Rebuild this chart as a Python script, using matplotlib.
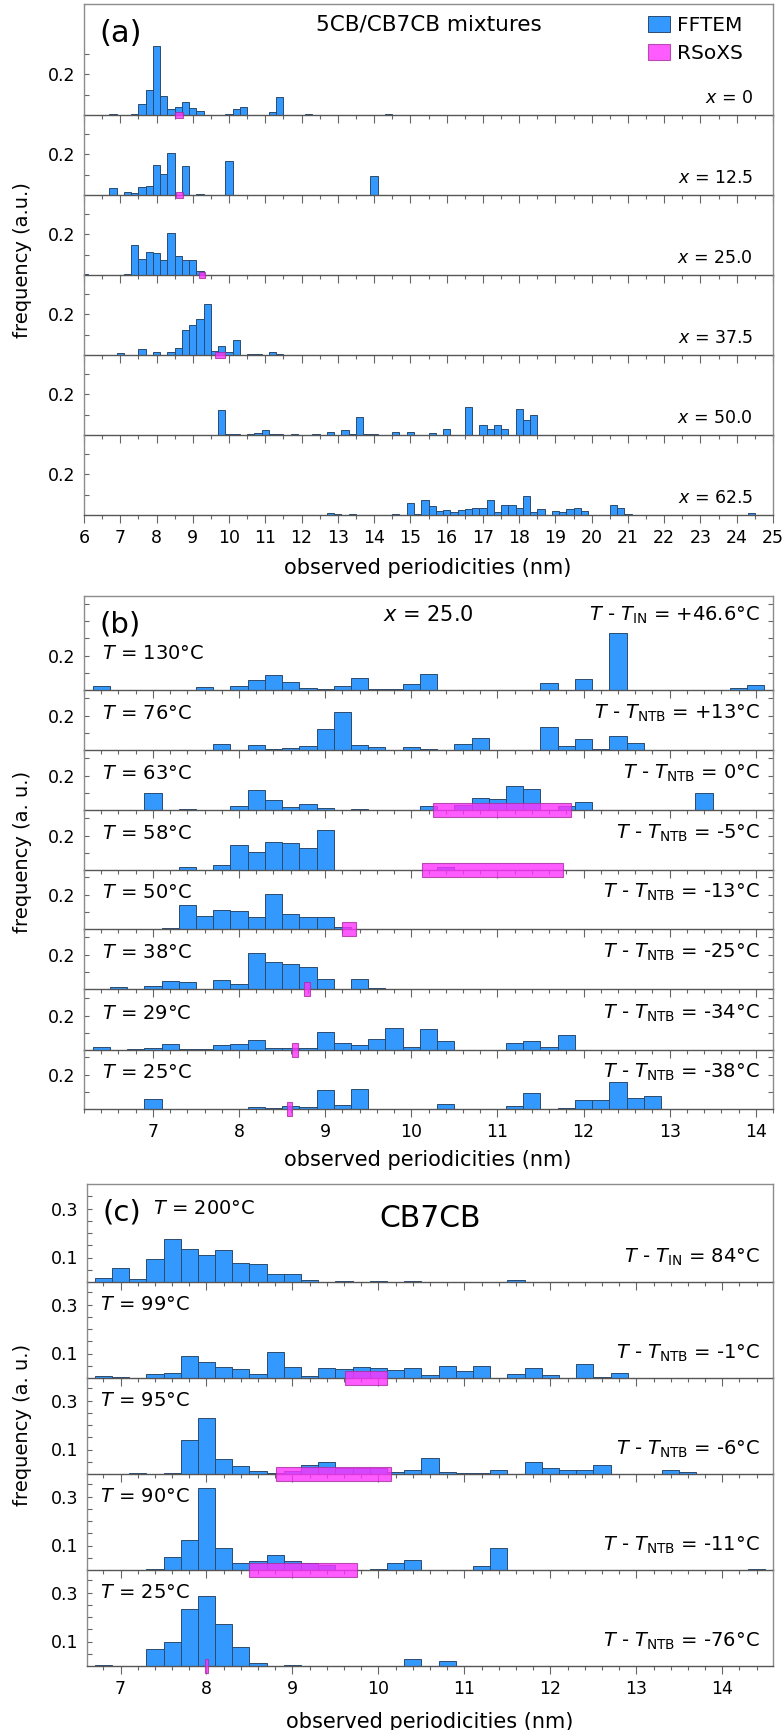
import matplotlib.pyplot as plt
from matplotlib.ticker import MultipleLocator
import numpy as np

plt.rcParams['font.family'] = ['DejaVu Sans']
plt.rcParams['mathtext.fontset'] = 'dejavusans'

BIN = 0.2
BLUE = '#3399ff'
EDGE = '#2b4a6e'
MAGENTA = '#ff33ff'
MAG_EDGE = '#a8309f'
SPINE = '#8c8c8c'
BASE = '#555555'

# ---- (a) 5CB/CB7CB mixtures, FFTEM histograms per composition x ----
a_labels = ['0', '12.5', '25.0', '37.5', '50.0', '62.5']
a_centers = [
    [6.8, 7.4, 7.6, 7.8, 8.0, 8.2, 8.4, 8.6, 8.8, 9.0, 9.2, 10.0, 10.2, 10.4, 11.2, 11.4, 12.2, 14.4],
    [6.8, 7.2, 7.4, 7.6, 7.8, 8.0, 8.2, 8.4, 8.8, 9.2, 10.0, 14.0],
    [6.0, 7.2, 7.4, 7.6, 7.8, 8.0, 8.2, 8.4, 8.6, 8.8, 9.0, 9.2, 9.4, 10.0],
    [7.0, 7.6, 8.0, 8.4, 8.6, 8.8, 9.0, 9.2, 9.4, 9.6, 9.8, 10.0, 10.2, 10.6, 10.8, 11.2, 11.4],
    [9.8, 10.0, 10.2, 10.6, 10.8, 11.0, 11.2, 11.4, 11.8, 12.4, 12.8, 13.2, 13.4, 13.6, 13.8, 14.0,
     14.6, 15.0, 15.6, 16.0, 16.6, 17.0, 17.2, 17.4, 17.6, 18.0, 18.2, 18.4],
    [12.8, 13.0, 13.4, 14.6, 15.0, 15.2, 15.4, 15.6, 15.8, 16.0, 16.2, 16.4, 16.6, 16.8, 17.0, 17.2,
     17.4, 17.6, 17.8, 18.0, 18.2, 18.4, 18.6, 19.0, 19.2, 19.4, 19.6, 19.8, 20.6, 20.8, 21.0, 21.4, 24.4],
]
a_freq = [
    [0.003, 0.005, 0.055, 0.124, 0.337, 0.091, 0.029, 0.037, 0.062, 0.036, 0.020, 0.005, 0.029, 0.040,
     0.015, 0.089, 0.003, 0.006],
    [0.036, 0.013, 0.008, 0.039, 0.044, 0.144, 0.102, 0.205, 0.141, 0.003, 0.164, 0.095],
    [0.003, 0.003, 0.144, 0.079, 0.113, 0.105, 0.074, 0.203, 0.092, 0.073, 0.073, 0.018, 0.002, 0.002],
    [0.011, 0.029, 0.015, 0.015, 0.036, 0.122, 0.148, 0.174, 0.247, 0.020, 0.042, 0.013, 0.072, 0.006,
     0.006, 0.013, 0.003],
    [0.121, 0.003, 0.003, 0.003, 0.010, 0.026, 0.005, 0.005, 0.003, 0.003, 0.016, 0.023, 0.003, 0.090,
     0.003, 0.003, 0.013, 0.014, 0.012, 0.028, 0.136, 0.049, 0.030, 0.051, 0.031, 0.126, 0.074, 0.098],
    [0.011, 0.005, 0.005, 0.005, 0.060, 0.005, 0.074, 0.045, 0.020, 0.026, 0.013, 0.026, 0.031, 0.034,
     0.036, 0.074, 0.016, 0.049, 0.049, 0.033, 0.093, 0.015, 0.031, 0.020, 0.015, 0.030, 0.034, 0.021,
     0.049, 0.034, 0.005, 0.002, 0.011],
]
a_rsoxs = [(8.50, 8.74), (8.55, 8.74), (9.18, 9.34), (9.62, 9.89), None, None]

# ---- (b) x = 25.0 at several temperatures ----
b_temps = ['130', '76', '63', '58', '50', '38', '29', '25']
b_shift = [None, '+13', '0', '-5', '-13', '-25', '-34', '-38']
b_centers = [
    [6.4, 7.6, 8.0, 8.2, 8.4, 8.6, 8.8, 9.0, 9.2, 9.4, 9.6, 9.8, 10.0, 10.2, 11.6, 12.0, 12.4, 13.8, 14.0],
    [7.4, 7.8, 8.2, 8.4, 8.6, 8.8, 9.0, 9.2, 9.4, 9.6, 10.0, 10.2, 10.6, 10.8, 11.6, 11.8, 12.0, 12.2,
     12.4, 12.6],
    [7.0, 7.4, 8.0, 8.2, 8.4, 8.6, 8.8, 9.0, 9.4, 10.2, 10.6, 10.8, 11.0, 11.2, 11.4, 11.8, 12.0, 13.4],
    [7.4, 7.8, 8.0, 8.2, 8.4, 8.6, 8.8, 9.0, 10.4],
    [7.2, 7.4, 7.6, 7.8, 8.0, 8.2, 8.4, 8.6, 8.8, 9.0, 9.2, 10.0],
    [6.6, 7.0, 7.2, 7.4, 7.8, 8.0, 8.2, 8.4, 8.6, 8.8, 9.0, 9.2, 9.4, 9.6],
    [6.4, 6.8, 7.0, 7.2, 7.4, 7.6, 7.8, 8.0, 8.2, 8.4, 8.6, 8.8, 9.0, 9.2, 9.4, 9.6, 9.8, 10.0, 10.2,
     10.4, 11.2, 11.4, 11.6, 11.8],
    [7.0, 7.2, 7.6, 8.2, 8.4, 8.6, 8.8, 9.0, 9.2, 9.4, 9.6, 10.4, 10.6, 10.8, 11.0, 11.2, 11.4, 11.6,
     11.8, 12.0, 12.2, 12.4, 12.6, 12.8],
]
b_freq = [
    [0.025, 0.016, 0.023, 0.058, 0.087, 0.049, 0.014, 0.008, 0.021, 0.070, 0.004, 0.004, 0.037, 0.093,
     0.043, 0.064, 0.330, 0.012, 0.031],
    [0.002, 0.033, 0.027, 0.008, 0.012, 0.021, 0.124, 0.221, 0.027, 0.017, 0.016, 0.006, 0.033, 0.068,
     0.134, 0.021, 0.066, 0.006, 0.080, 0.043],
    [0.097, 0.004, 0.023, 0.115, 0.058, 0.019, 0.035, 0.012, 0.004, 0.025, 0.030, 0.072, 0.066, 0.138,
     0.120, 0.025, 0.049, 0.097],
    [0.016, 0.029, 0.144, 0.105, 0.163, 0.157, 0.128, 0.231, 0.017],
    [0.004, 0.142, 0.078, 0.113, 0.103, 0.070, 0.202, 0.089, 0.070, 0.070, 0.012, 0.002],
    [0.012, 0.016, 0.047, 0.043, 0.050, 0.027, 0.210, 0.155, 0.148, 0.130, 0.060, 0.002, 0.056, 0.006],
    [0.016, 0.004, 0.012, 0.033, 0.004, 0.008, 0.029, 0.035, 0.056, 0.014, 0.014, 0.014, 0.105, 0.039,
     0.029, 0.062, 0.130, 0.017, 0.120, 0.052, 0.043, 0.054, 0.017, 0.085],
    [0.060, 0.002, 0.002, 0.012, 0.004, 0.017, 0.010, 0.113, 0.021, 0.118, 0.002, 0.031, 0.002, 0.002,
     0.002, 0.016, 0.093, 0.002, 0.006, 0.050, 0.050, 0.157, 0.062, 0.078],
]
b_rsoxs = [None, None, (10.25, 11.85), (10.12, 11.76), (9.20, 9.36), (8.75, 8.82), (8.62, 8.68), (8.56, 8.62)]

# ---- (c) CB7CB at several temperatures ----
c_temps = ['200', '99', '95', '90', '25']
c_shift = ['84', '-1', '-6', '-11', '-76']
c_centers = [
    [6.8, 7.0, 7.2, 7.4, 7.6, 7.8, 8.0, 8.2, 8.4, 8.6, 8.8, 9.0, 9.2, 9.6, 10.0, 10.4, 11.6],
    [6.8, 7.0, 7.4, 7.6, 7.8, 8.0, 8.2, 8.4, 8.6, 8.8, 9.0, 9.2, 9.4, 9.6, 9.8, 10.0, 10.2, 10.4, 10.6,
     10.8, 11.0, 11.2, 11.6, 11.8, 12.0, 12.4, 12.6, 12.8],
    [7.2, 7.6, 7.8, 8.0, 8.2, 8.4, 8.6, 8.8, 9.0, 9.2, 9.4, 9.6, 9.8, 10.0, 10.2, 10.4, 10.6, 10.8, 11.0,
     11.2, 11.4, 11.8, 12.0, 12.2, 12.4, 12.6, 13.4, 13.6, 14.4],
    [6.8, 7.4, 7.6, 7.8, 8.0, 8.2, 8.4, 8.6, 8.8, 9.0, 9.2, 9.4, 10.0, 10.2, 10.4, 11.2, 11.4, 12.2, 14.4],
    [6.8, 7.2, 7.4, 7.6, 7.8, 8.0, 8.2, 8.4, 8.6, 9.0, 9.2, 9.6, 10.4, 10.8],
]
c_freq = [
    [0.016, 0.058, 0.014, 0.095, 0.177, 0.135, 0.112, 0.129, 0.079, 0.073, 0.031, 0.031, 0.008, 0.004,
     0.004, 0.004, 0.008],
    [0.007, 0.004, 0.015, 0.019, 0.088, 0.064, 0.046, 0.038, 0.016, 0.106, 0.044, 0.008, 0.041, 0.037,
     0.046, 0.041, 0.034, 0.042, 0.012, 0.049, 0.030, 0.048, 0.015, 0.042, 0.011, 0.058, 0.005, 0.019],
    [0.003, 0.004, 0.139, 0.227, 0.061, 0.034, 0.014, 0.005, 0.014, 0.037, 0.050, 0.024, 0.024, 0.024,
     0.007, 0.016, 0.064, 0.010, 0.003, 0.006, 0.016, 0.048, 0.023, 0.018, 0.018, 0.038, 0.016, 0.007,
     0.002],
    [0.002, 0.003, 0.054, 0.121, 0.336, 0.091, 0.029, 0.038, 0.063, 0.035, 0.027, 0.019, 0.005, 0.029,
     0.039, 0.015, 0.088, 0.002, 0.003],
    [0.003, 0.002, 0.068, 0.099, 0.231, 0.287, 0.170, 0.076, 0.014, 0.004, 0.002, 0.002, 0.029, 0.019],
]
c_rsoxs = [None, (9.61, 10.10), (8.81, 10.15), (8.50, 9.75), (7.98, 8.02)]

W, H = 784, 1730
fig = plt.figure(figsize=(W / 100, H / 100), dpi=100)


def px_axes(left, top, right, bottom):
    return fig.add_axes([left / W, 1 - bottom / H, (right - left) / W, (bottom - top) / H])


def stack(edges, left, right, xlim, scale, centers, freqs, rsoxs, half,
          xmajor, xminor, yticks, yminor_step, mirror):
    axes, handles = [], []
    n = len(edges) - 1
    for i in range(n):
        ax = px_axes(left, edges[i], right, edges[i + 1])
        ax.set_facecolor('none')
        top = (edges[i + 1] - edges[i]) / scale
        bars = ax.bar(centers[i], freqs[i], width=BIN, color=BLUE, edgecolor=EDGE,
                      linewidth=0.7, zorder=2)
        mag = None
        if rsoxs[i] is not None:
            lo, hi = rsoxs[i]
            # RSoXS period range straddles the baseline
            mag = ax.bar(lo, 2 * half, width=hi - lo, bottom=-half, align='edge',
                         color=MAGENTA, alpha=0.8, edgecolor=MAG_EDGE, linewidth=0.8,
                         clip_on=False, zorder=6)
        handles.append((bars, mag))
        ax.set_xlim(*xlim)
        ax.set_ylim(0, top)
        ax.xaxis.set_major_locator(MultipleLocator(xmajor))
        ax.xaxis.set_minor_locator(MultipleLocator(xminor))
        ax.set_yticks(yticks, [f'{t:.1f}' for t in yticks])
        minors = [t for t in np.arange(yminor_step, top, yminor_step)
                  if all(abs(t - y) > 1e-6 for y in yticks)]
        if yminor_step == 0.1 and not mirror:
            minors = [t for t in minors if t < 0.35]
        ax.set_yticks(minors, minor=True)
        ax.tick_params(axis='x', which='both', direction='out', colors='#666666',
                       labelcolor='black', labelsize=12.5, labelbottom=(i == n - 1),
                       width=0.8, pad=4)
        ax.tick_params(axis='x', which='major', length=6)
        ax.tick_params(axis='x', which='minor', length=3)
        ax.tick_params(axis='y', which='both', direction='in', length=3.8, width=0.8,
                       colors='#666666', labelcolor='black', labelsize=12.5, pad=6,
                       right=mirror)
        for side in ('left', 'right', 'top'):
            ax.spines[side].set_color(SPINE)
        ax.spines['top'].set_visible(i == 0)
        ax.spines['bottom'].set_color(BASE)
        for sp in ax.spines.values():
            sp.set_linewidth(1.0)
        axes.append(ax)
    return axes, handles


# panel (a)
a_edges = [4, 115, 195, 275, 355, 435, 515]
ax_a, h_a = stack(a_edges, 84, 773, (6, 25), 205.0, a_centers, a_freq, a_rsoxs, 0.016,
                  1, 0.5, [0.2], 0.1, False)
for ax, lab in zip(ax_a, a_labels):
    ax.text(0.971, 0.085, f'$x$ = {lab}', transform=ax.get_yaxis_transform(),
            ha='right', va='center', fontsize=12.5)
ax_a[0].text(0.022, 0.40, '(a)', transform=ax_a[0].get_yaxis_transform(),
             ha='left', va='center', fontsize=22)
ax_a[0].text(0.5, 0.44, '5CB/CB7CB mixtures', transform=ax_a[0].get_yaxis_transform(),
             ha='center', va='center', fontsize=15.5)
ax_a[0].legend([h_a[0][0], h_a[0][1]], ['FFTEM', 'RSoXS'], loc='upper left',
               bbox_to_anchor=(0.8186, 0.892), frameon=False, fontsize=14.5,
               handlelength=1.1, handleheight=0.8, handletextpad=0.35,
               labelspacing=0.45, borderpad=0, borderaxespad=0)
fig.text(428 / W, 1 - 568 / H, 'observed periodicities (nm)', ha='center', va='center',
         fontsize=15)
fig.text(23 / W, 1 - 260 / H, 'frequency (a.u.)', rotation=90, ha='center', va='center',
         fontsize=14)

# panel (b)
b_edges = [596, 690, 750, 810, 870, 929, 989, 1050, 1109]
ax_b, h_b = stack(b_edges, 84, 773, (6.2, 14.2), 171.7, b_centers, b_freq, b_rsoxs, 0.041,
                  1, 0.2, [0.2], 0.1, True)
for i, ax in enumerate(ax_b):
    tr = ax.get_yaxis_transform()
    ax.text(0.026, 0.215, f'$T$ = {b_temps[i]}°C', transform=tr, ha='left', va='center',
            fontsize=14)
    if b_shift[i] is not None:
        ax.text(0.981, 0.215, r'$T$ - $T_{\mathrm{NTB}}$' + f' = {b_shift[i]}°C', transform=tr,
                ha='right', va='center', fontsize=14)
tr = ax_b[0].get_yaxis_transform()
ax_b[0].text(0.023, 0.379, '(b)', transform=tr, ha='left', va='center', fontsize=21)
ax_b[0].text(0.5, 0.437, '$x$ = 25.0', transform=tr, ha='center', va='center', fontsize=15)
ax_b[0].text(0.981, 0.437, r'$T$ - $T_{\mathrm{IN}}$ = +46.6°C', transform=tr, ha='right',
             va='center', fontsize=14)
fig.text(428 / W, 1 - 1160 / H, 'observed periodicities (nm)', ha='center', va='center',
         fontsize=15)
fig.text(23 / W, 1 - 852 / H, 'frequency (a. u.)', rotation=90, ha='center', va='center',
         fontsize=14)

# panel (c)
c_edges = [1184, 1282, 1378, 1474, 1570, 1666]
ax_c, h_c = stack(c_edges, 87, 773, (6.61, 14.59), 245.0, c_centers, c_freq, c_rsoxs, 0.027,
                  1, 0.2, [0.1, 0.3], 0.05, False)
for i, ax in enumerate(ax_c):
    tr = ax.get_yaxis_transform()
    name = 'IN' if i == 0 else 'NTB'
    ax.text(0.981, 0.10, r'$T$ - $T_{\mathrm{%s}}$' % name + f' = {c_shift[i]}°C', transform=tr,
            ha='right', va='center', fontsize=14)
    if i > 0:
        ax.text(0.019, 0.30, f'$T$ = {c_temps[i]}°C', transform=tr, ha='left', va='center',
                fontsize=14)
tr = ax_c[0].get_yaxis_transform()
ax_c[0].text(0.023, 0.282, '(c)', transform=tr, ha='left', va='center', fontsize=21)
ax_c[0].text(0.096, 0.30, f'$T$ = {c_temps[0]}°C', transform=tr, ha='left', va='center',
             fontsize=14)
ax_c[0].text(0.5, 0.26, 'CB7CB', transform=tr, ha='center', va='center', fontsize=21.5)
fig.text(430 / W, 1 - 1722 / H, 'observed periodicities (nm)', ha='center', va='center',
         fontsize=15)
fig.text(23 / W, 1 - 1425 / H, 'frequency (a. u.)', rotation=90, ha='center', va='center',
         fontsize=14)

fig.savefig('out.png', dpi=100)
